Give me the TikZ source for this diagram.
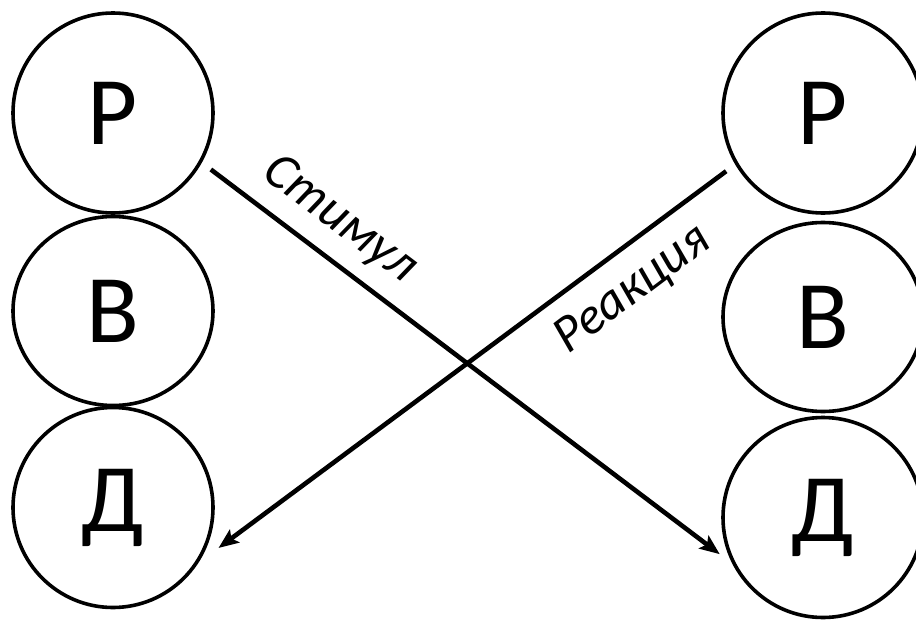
\documentclass[tikz,border=0pt]{standalone}
\usepackage{fontspec}
\setmainfont{Carlito}
\usetikzlibrary{arrows.meta,shapes.geometric}
\begin{document}
\begin{tikzpicture}[x=1pt,y=-1pt,
  ball/.style={ellipse,draw,line width=3.6pt,minimum width=200pt,minimum height=200pt,inner sep=0pt,outer sep=13pt,font=\fontsize{97}{97}\selectfont},
  flat/.style={minimum height=189pt},
  link/.style={line width=4.6pt,-{Stealth[length=20pt,width=16pt,inset=4pt]}},
  lab/.style={font=\itshape\fontsize{52}{52}\selectfont,inner sep=0pt}]
\useasboundingbox (0,0) rectangle (916,621);
\node[ball] (Pl) at (113,113) {Р};
\node[ball,flat] (Bl) at (113,311) {В};
\node[ball] (Dl) at (113,507.5) {Д};
\node[ball] (Pr) at (823,113) {Р};
\node[ball,flat] (Br) at (823,317) {В};
\node[ball] (Dr) at (823,517.5) {Д};
\draw[link,shorten >=-6pt] (Pl.-30) -- (Dr.197);
\draw[link] (Pr.211) -- (Dl.-21);
\node[lab,rotate=-37] (s) at (340,220) {Стимул};
\node[lab,rotate=37] (r) at (633,290) {Реакция};
\end{tikzpicture}
\end{document}
